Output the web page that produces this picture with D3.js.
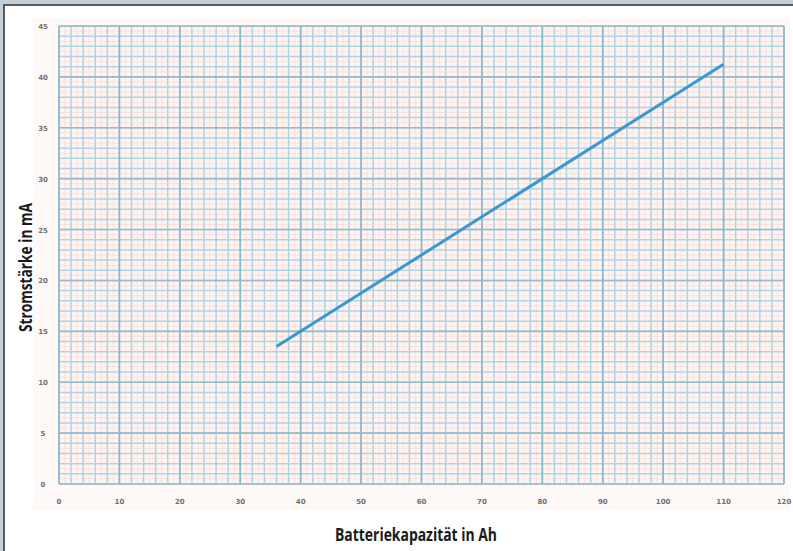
<!DOCTYPE html>
<html>
<head>
<meta charset="utf-8">
<script src="https://cdn.jsdelivr.net/npm/d3@7"></script>
<style>
  html, body { margin: 0; padding: 0; background: #fff; }
  svg { display: block; }
  .tick-lbl { font-family: "DejaVu Sans", sans-serif; font-size: 7px; font-weight: bold; fill: #707070; }
  .axis-title { font-family: "Open Sans", "DejaVu Sans", sans-serif; font-size: 17px; font-weight: bold; fill: #1a1a1a; }
</style>
</head>
<body>
<div id="chart"></div>
<script>
// Batteriekapazität (Ah) vs. Stromstärke (mA)
const capacityAh = [36, 110];
const currentMA = [13.5, 41.25];

const xTicks = [0, 10, 20, 30, 40, 50, 60, 70, 80, 90, 100, 110, 120];
const yTicks = [0, 5, 10, 15, 20, 25, 30, 35, 40, 45];

const xTitle = "Batteriekapazität in Ah";
const yTitle = "Stromstärke in mA";

const width = 793, height = 551;
const margin = { top: 26, right: 9, bottom: 67, left: 59 };
const innerW = width - margin.left - margin.right;
const innerH = height - margin.top - margin.bottom;

const svg = d3.select("#chart").append("svg")
  .attr("width", width)
  .attr("height", height);

// page frame
svg.append("rect").attr("x", 0).attr("y", 0).attr("width", width).attr("height", 5).attr("fill", "#c3ced6");
svg.append("rect").attr("x", 0).attr("y", 0).attr("width", 4).attr("height", height).attr("fill", "#c3ced6");
svg.append("rect").attr("x", 3).attr("y", 4).attr("width", width - 3).attr("height", 2).attr("fill", "#5a5a5a");
svg.append("rect").attr("x", 3).attr("y", 4).attr("width", 2).attr("height", height - 4).attr("fill", "#5a5a5a");

const g = svg.append("g")
  .attr("transform", `translate(${margin.left},${margin.top})`);

const x = d3.scaleLinear().domain([0, 120]).range([0, innerW]);
const y = d3.scaleLinear().domain([0, 45]).range([innerH, 0]);

// faint pink haze behind the graph paper
g.append("rect")
  .attr("x", -26).attr("y", -8)
  .attr("width", innerW + 32).attr("height", innerH + 34)
  .attr("fill", "#fef9f7");
g.append("rect")
  .attr("width", innerW).attr("height", innerH)
  .attr("fill", "#fdf3f0");

// fine pink lines
g.append("g").selectAll("line")
  .data(d3.range(1, 120, 2))
  .join("line")
  .attr("x1", d => x(d)).attr("x2", d => x(d))
  .attr("y1", 0).attr("y2", innerH)
  .attr("stroke", "#f8e0d8").attr("stroke-width", 0.8);
g.append("g").selectAll("line")
  .data(d3.range(0.5, 45, 1))
  .join("line")
  .attr("y1", d => y(d)).attr("y2", d => y(d))
  .attr("x1", 0).attr("x2", innerW)
  .attr("stroke", "#f8e0d8").attr("stroke-width", 0.8);

// minor blue grid
g.append("g").selectAll("line")
  .data(d3.range(0, 120.01, 2))
  .join("line")
  .attr("x1", d => x(d)).attr("x2", d => x(d))
  .attr("y1", 0).attr("y2", innerH)
  .attr("stroke", "#b3d3e3").attr("stroke-width", 1.5);
g.append("g").selectAll("line")
  .data(d3.range(0, 45.01, 1))
  .join("line")
  .attr("y1", d => y(d)).attr("y2", d => y(d))
  .attr("x1", 0).attr("x2", innerW)
  .attr("stroke", "#b3d3e3").attr("stroke-width", 1.5);

// major grid
g.append("g").selectAll("line")
  .data(xTicks)
  .join("line")
  .attr("x1", d => x(d)).attr("x2", d => x(d))
  .attr("y1", 0).attr("y2", innerH)
  .attr("stroke", "#8ab6cc").attr("stroke-width", 1.6);
g.append("g").selectAll("line")
  .data(yTicks)
  .join("line")
  .attr("y1", d => y(d)).attr("y2", d => y(d))
  .attr("x1", 0).attr("x2", innerW)
  .attr("stroke", "#9cb9c7").attr("stroke-width", 1.6);

// tick labels
g.append("g").selectAll("text")
  .data(xTicks)
  .join("text")
  .attr("class", "tick-lbl")
  .attr("x", d => x(d))
  .attr("y", innerH + 20)
  .attr("text-anchor", "middle")
  .text(d => d);
g.append("g").selectAll("text")
  .data(yTicks)
  .join("text")
  .attr("class", "tick-lbl")
  .attr("x", -16)
  .attr("y", d => y(d) + 3)
  .attr("text-anchor", "middle")
  .text(d => d);

// data line
const line = d3.line()
  .x((d, i) => x(capacityAh[i]))
  .y(d => y(d));

g.append("path")
  .datum(currentMA)
  .attr("fill", "none")
  .attr("stroke", "#3b97cf")
  .attr("stroke-width", 3)
  .attr("d", line);

// axis titles (condensed face in the original, squeezed to its width)
svg.append("text")
  .attr("class", "axis-title")
  .attr("x", 335)
  .attr("y", 541)
  .attr("textLength", 162)
  .attr("lengthAdjust", "spacingAndGlyphs")
  .text(xTitle);

svg.append("text")
  .attr("class", "axis-title")
  .attr("transform", "translate(32,332) rotate(-90)")
  .attr("textLength", 129)
  .attr("lengthAdjust", "spacingAndGlyphs")
  .text(yTitle);
</script>
</body>
</html>
